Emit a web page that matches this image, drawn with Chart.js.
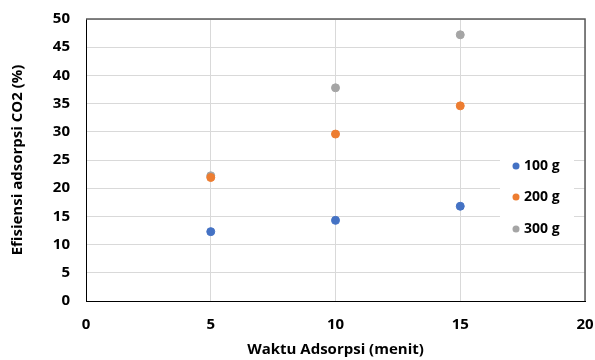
<!DOCTYPE html>
<html>
<head>
<meta charset="utf-8">
<script src="https://cdn.jsdelivr.net/npm/chart.js@4.4.0/dist/chart.umd.min.js"></script>
<style>
  html, body { margin: 0; padding: 0; background: #fff; overflow: hidden; }
  #wrap { width: 595px; height: 360px; }
  canvas { display: block; }
</style>
</head>
<body>
<div id="wrap"><canvas id="myChart" width="595" height="360"></canvas></div>
<script>
// waktu adsorpsi (menit)
const minutes = [5, 10, 15];
// efisiensi adsorpsi CO2 (%)
const eff100 = [12.3, 14.3, 16.8];
const eff200 = [21.9, 29.6, 34.6];
const eff300 = [22.2, 37.8, 47.2];
const seriesNames = ['100 g', '200 g', '300 g'];
const xTicks = [0, 5, 10, 15, 20];
const yTicks = [0, 5, 10, 15, 20, 25, 30, 35, 40, 45, 50];

const colors = ['#4472C4', '#ED7D31', '#A5A5A5'];
const FONT = '"Open Sans", sans-serif';

function toPoints(ys) {
    return minutes.map((m, i) => ({ x: m, y: ys[i] }));
}

// legend box inside the plot, right side, plus the frame
const legendPlugin = {
    id: 'insideLegend',
    afterDatasetsDraw(chart) {
        const { ctx } = chart;
        const rowY = [166, 197, 229];
        ctx.save();
        ctx.fillStyle = '#fff';
        ctx.fillRect(500, 150, 74, 94);
        ctx.font = 'bold 14px ' + FONT;
        ctx.textBaseline = 'middle';
        chart.data.datasets.forEach((ds, i) => {
            ctx.fillStyle = ds.backgroundColor;
            ctx.beginPath();
            ctx.arc(516, rowY[i], 3.5, 0, Math.PI * 2);
            ctx.fill();
            ctx.fillStyle = '#000';
            ctx.fillText(ds.label, 524, rowY[i]);
        });
        ctx.restore();
    },
    afterDraw(chart) {
        // top and right side of the plot box (left / bottom are the axis borders)
        const { ctx, chartArea: a } = chart;
        ctx.save();
        ctx.strokeStyle = '#595959';
        ctx.lineWidth = 1.5;
        ctx.beginPath();
        ctx.moveTo(a.left, a.top);
        ctx.lineTo(a.right, a.top);
        ctx.lineTo(a.right, a.bottom);
        ctx.stroke();
        ctx.restore();
    }
};

function noPad(scale) {
    scale.paddingLeft = 0;
    scale.paddingRight = 0;
    scale.paddingTop = 0;
    scale.paddingBottom = 0;
}

const ctx = document.getElementById('myChart').getContext('2d');

const chart = new Chart(ctx, {
    type: 'scatter',
    data: {
        datasets: [eff100, eff200, eff300].map((ys, i) => ({
            label: seriesNames[i],
            data: toPoints(ys),
            backgroundColor: colors[i],
            borderColor: colors[i],
            pointRadius: 4,
            pointHoverRadius: 4
        }))
    },
    options: {
        responsive: false,
        animation: false,
        layout: { autoPadding: false, padding: { left: 0, right: 10, top: 19, bottom: 0 } },
        plugins: {
            legend: { display: false },
            tooltip: { enabled: false }
        },
        scales: {
            x: {
                type: 'linear',
                min: 0,
                max: 20,
                afterBuildTicks(scale) { scale.ticks = xTicks.map(v => ({ value: v })); },
                afterFit(scale) { scale.height = 59; noPad(scale); },
                grid: { color: '#d9d9d9', drawTicks: false },
                border: { color: '#000', width: 1 },
                ticks: { color: '#000', padding: 15, font: { family: FONT, size: 15, weight: 'bold' } },
                title: {
                    display: true,
                    text: 'Waktu Adsorpsi (menit)',
                    color: '#000',
                    padding: { top: 0, bottom: 1 },
                    font: { family: FONT, size: 15, weight: 'bold' }
                }
            },
            y: {
                type: 'linear',
                min: 0,
                max: 50,
                afterBuildTicks(scale) { scale.ticks = yTicks.map(v => ({ value: v })); },
                afterFit(scale) { scale.width = 86; noPad(scale); },
                grid: { color: '#d9d9d9', drawTicks: false },
                border: { color: '#000', width: 1 },
                ticks: { color: '#000', padding: 16, font: { family: FONT, size: 15, weight: 'bold' } },
                title: {
                    display: true,
                    text: 'Efisiensi adsorpsi CO2 (%)',
                    color: '#000',
                    padding: { top: 9, bottom: 0 },
                    font: { family: FONT, size: 15, weight: 'bold' }
                }
            }
        }
    },
    plugins: [legendPlugin]
});
</script>
</body>
</html>
